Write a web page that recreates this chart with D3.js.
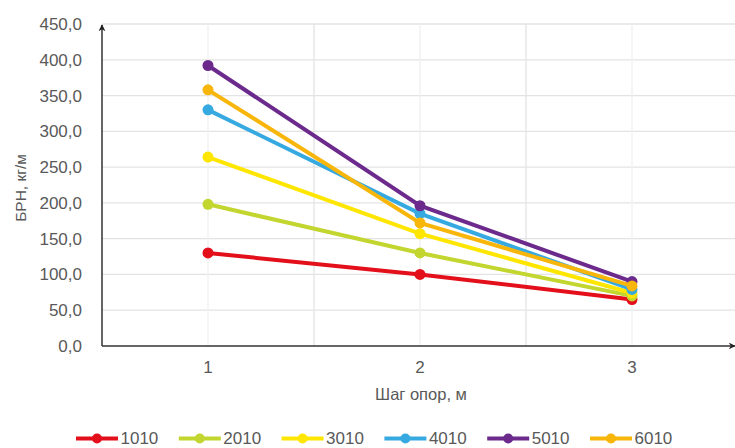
<!DOCTYPE html>
<html><head><meta charset="utf-8">
<script src="https://cdn.jsdelivr.net/npm/d3@7"></script>
<style>body{margin:0;background:#fff}svg{display:block;font-family:"Liberation Sans",Arial,sans-serif}</style>
</head><body><svg id="c" width="735" height="448"></svg>
<script>
const categories = ["1","2","3"];
const seriesNames = ["1010","2010","3010","4010","5010","6010"];
const s1010 = [130, 100, 65];
const s2010 = [198, 130, 70];
const s3010 = [264, 157, 74];
const s4010 = [330, 185, 79];
const s5010 = [392, 196, 90];
const s6010 = [358, 172, 84];
const colors = ["#E30F1B","#C3D52F","#FFE600","#36A9E1","#6C2A8C","#F8B50A"];
const yTicks = [0,50,100,150,200,250,300,350,400,450];
const yTitle = "БРН, кг/м";
const xTitle = "Шаг опор, м";

const seriesValues = [s1010,s2010,s3010,s4010,s5010,s6010];
const svg = d3.select("#c");
const L = 102, R = 738, T = 24, B = 346;
const x = d3.scaleBand().domain(categories).range([L, R]);
const y = d3.scaleLinear().domain([0, 450]).range([B, T]);
const cx = c => x(c) + x.bandwidth()/2;

// horizontal gridlines
svg.append("g").selectAll("line").data(yTicks.filter(t=>t>0)).join("line")
  .attr("x1", L).attr("x2", 735).attr("y1", d=>y(d)).attr("y2", d=>y(d))
  .attr("stroke", "#e3e3e3").attr("stroke-width", 1.3);
// vertical gridlines (band boundaries and centers)
const vx = [];
categories.forEach(c => { vx.push(x(c)+x.bandwidth()); vx.push(cx(c)); });
svg.append("g").selectAll("line").data(vx).join("line")
  .attr("x1", d=>d).attr("x2", d=>d).attr("y1", T).attr("y2", B)
  .attr("stroke", (d,i)=> i%2===0 ? "#e3e3e3" : "#f0f0f0").attr("stroke-width", 1.3);

// y tick labels
const yAxis = d3.axisLeft(y).tickValues(yTicks).tickSize(0).tickPadding(20)
  .tickFormat(d => d3.format(".1f")(d).replace(".", ","));
const ya = svg.append("g").attr("transform", `translate(${L},0)`).call(yAxis);
ya.select(".domain").remove();
ya.selectAll("text").attr("font-size", 17).attr("fill", "#595959").attr("font-family", "Liberation Sans, Arial, sans-serif");

// x tick labels
const xAxis = d3.axisBottom(x).tickSize(0).tickPadding(15);
const xa = svg.append("g").attr("transform", `translate(0,${B})`).call(xAxis);
xa.select(".domain").remove();
xa.selectAll("text").attr("font-size", 17).attr("fill", "#595959").attr("font-family", "Liberation Sans, Arial, sans-serif");

// axes with arrows
const defs = svg.append("defs");
defs.append("marker").attr("id","arr").attr("viewBox","0 0 10 10").attr("refX",9).attr("refY",5)
  .attr("markerWidth",7).attr("markerHeight",7).attr("orient","auto-start-reverse").attr("markerUnits","userSpaceOnUse")
  .append("path").attr("d","M0,0 L10,5 L0,10 L3,5 Z").attr("fill","#222");
svg.append("line").attr("x1", L).attr("x2", L).attr("y1", B).attr("y2", T+1)
  .attr("stroke","#333").attr("stroke-width",1.5).attr("marker-end","url(#arr)");
svg.append("line").attr("x1", L).attr("x2", 735).attr("y1", B).attr("y2", B)
  .attr("stroke","#333").attr("stroke-width",1.5).attr("marker-end","url(#arr)");

// series
const line = d3.line().x((d,i)=>cx(categories[i])).y(d=>y(d));
seriesValues.forEach((vals, si) => {
  const g = svg.append("g");
  g.append("path").attr("d", line(vals)).attr("fill","none").attr("stroke", colors[si]).attr("stroke-width", 4);
  g.selectAll("circle").data(vals).join("circle")
    .attr("cx", (d,i)=>cx(categories[i])).attr("cy", d=>y(d)).attr("r", 5.5).attr("fill", colors[si]);
});

// titles
svg.append("text").attr("transform", `translate(26,${(T+B)/2+3}) rotate(-90)`).attr("text-anchor","middle")
  .attr("font-size", 15.5).attr("fill","#595959").text(yTitle);
svg.append("text").attr("x", 421).attr("y", 399.5).attr("text-anchor","middle")
  .attr("font-size", 16.5).attr("fill","#595959").text(xTitle);

// legend
const lg = svg.append("g");
seriesNames.forEach((n, i) => {
  const x0 = 76 + i*102.8;
  const g = lg.append("g").attr("transform", `translate(${x0},438.5)`);
  g.append("line").attr("x1",0).attr("x2",42).attr("y1",0).attr("y2",0).attr("stroke",colors[i]).attr("stroke-width",4);
  g.append("circle").attr("cx",21).attr("cy",0).attr("r",5).attr("fill",colors[i]);
  g.append("text").attr("x",44.5).attr("y",5.8).attr("font-size",17).attr("fill","#595959").text(n);
});
</script></body></html>
